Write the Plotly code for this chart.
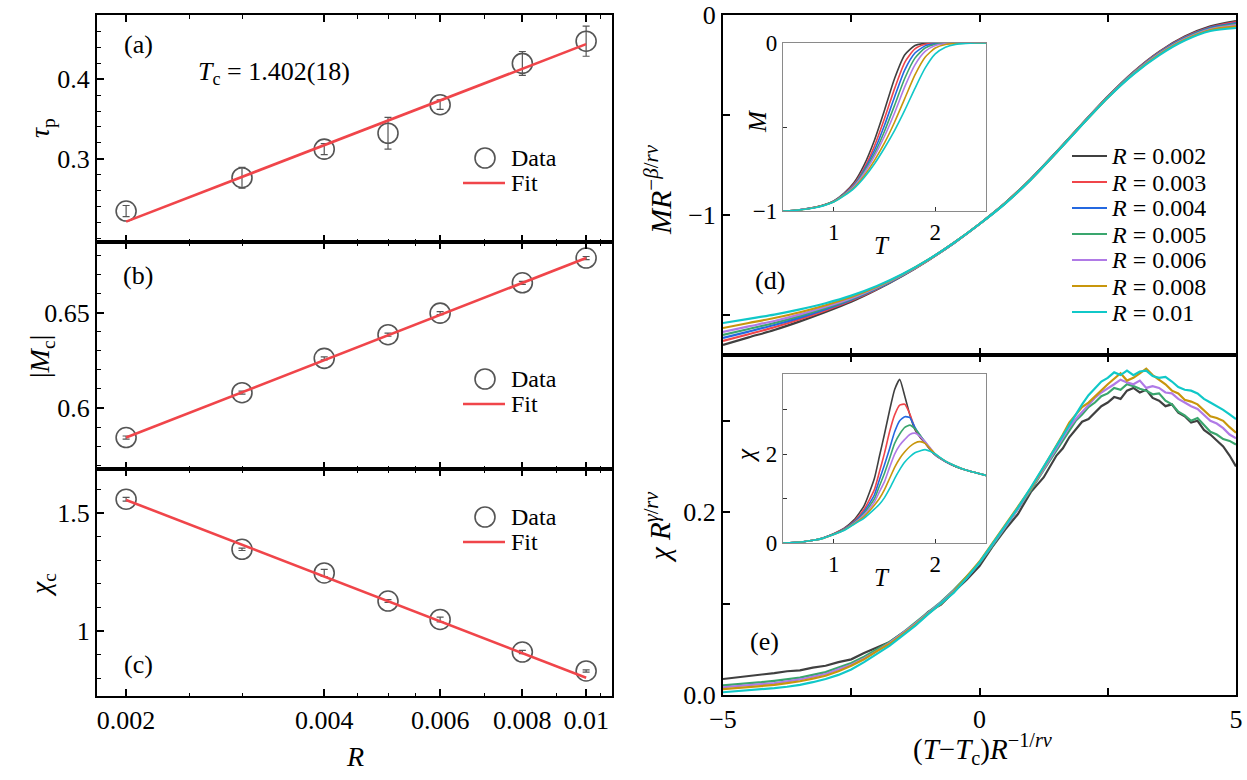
import plotly.graph_objects as go

W, H = 1247, 780
SERIF = "Liberation Serif"
TF = 26

# ---------------- left panels (a)-(c) ----------------
R_vals = [0.002, 0.003, 0.004, 0.005, 0.006, 0.008, 0.01]
tau_p = [0.234, 0.276, 0.312, 0.332, 0.368, 0.420, 0.448]
tau_p_err = [0.007, 0.013, 0.007, 0.020, 0.006, 0.015, 0.019]
Mc = [0.5845, 0.608, 0.626, 0.6384, 0.6497, 0.6656, 0.6786]
Mc_err = [0.0008, 0.0008, 0.0008, 0.0008, 0.0008, 0.0008, 0.0008]
chi_c = [1.558, 1.346, 1.246, 1.127, 1.049, 0.911, 0.831]
chi_c_err = [0.008, 0.005, 0.015, 0.006, 0.010, 0.007, 0.005]
fit_R = [0.002, 0.01]
tau_fit = [0.2207, 0.4443]
Mc_fit = [0.5845, 0.6786]
chi_fit = [1.555, 0.802]
R_ticks = [0.002, 0.004, 0.006, 0.008, 0.01]
R_ticktext = ["0.002", "0.004", "0.006", "0.008", "0.01"]
R_minor = [0.0025, 0.003, 0.0045, 0.005, 0.0055, 0.007, 0.009, 0.0105]

# ---------------- right panels ----------------
R_labels = ["0.002", "0.003", "0.004", "0.005", "0.006", "0.008", "0.01"]
COLORS = ["#404040", "#f0454a", "#2468e0", "#3aa66e", "#b07ae6", "#c8960c", "#10c8c8"]

# (d) main : M R^{-beta/r nu} vs scaled T
D_X = [-5, -4.5, -4, -3.5, -3, -2.5, -2, -1.5, -1, -0.5, 0, 0.5, 1, 1.5, 2, 2.5, 3, 3.5, 4, 4.5, 5]
D_black = [-1.650, -1.612, -1.575, -1.532, -1.485, -1.434, -1.373, -1.304, -1.226, -1.140, -1.045, -0.940, -0.820, -0.685, -0.545, -0.408, -0.285, -0.184, -0.108, -0.057, -0.030]
D_red = [-1.630, -1.596, -1.561, -1.521, -1.477, -1.428, -1.370, -1.302, -1.226, -1.140, -1.045, -0.940, -0.820, -0.685, -0.545, -0.409, -0.287, -0.187, -0.111, -0.061, -0.035]
D_blue = [-1.615, -1.583, -1.550, -1.513, -1.471, -1.424, -1.368, -1.301, -1.225, -1.140, -1.045, -0.941, -0.821, -0.686, -0.546, -0.410, -0.289, -0.189, -0.114, -0.064, -0.040]
D_green = [-1.600, -1.570, -1.540, -1.505, -1.465, -1.420, -1.365, -1.300, -1.225, -1.140, -1.045, -0.941, -0.821, -0.686, -0.546, -0.411, -0.291, -0.192, -0.117, -0.068, -0.045]
D_purple = [-1.585, -1.557, -1.530, -1.497, -1.459, -1.416, -1.362, -1.299, -1.225, -1.140, -1.045, -0.942, -0.822, -0.687, -0.547, -0.412, -0.293, -0.195, -0.120, -0.071, -0.050]
D_gold = [-1.565, -1.540, -1.515, -1.486, -1.451, -1.410, -1.359, -1.297, -1.224, -1.139, -1.045, -0.942, -0.822, -0.687, -0.548, -0.413, -0.295, -0.198, -0.124, -0.075, -0.057]
D_cyan = [-1.540, -1.519, -1.498, -1.472, -1.441, -1.403, -1.355, -1.295, -1.223, -1.139, -1.045, -0.943, -0.823, -0.688, -0.549, -0.414, -0.297, -0.202, -0.128, -0.080, -0.065]

# (d) inset : M vs T
DI_T = [0.5, 0.6, 0.7, 0.8, 0.9, 1.0, 1.1, 1.2, 1.3, 1.4, 1.5, 1.6, 1.7, 1.8, 1.9, 2.0, 2.1, 2.2, 2.3, 2.4, 2.5]
DI_black = [-1.0, -0.997, -0.99, -0.98, -0.965, -0.94, -0.895, -0.83, -0.725, -0.58, -0.40, -0.21, -0.07, -0.015, -0.002, 0.0, 0.0, 0.0, 0.0, 0.0, 0.0]
DI_red = [-1.0, -0.997, -0.99, -0.98, -0.965, -0.941, -0.898, -0.84, -0.745, -0.615, -0.45, -0.27, -0.115, -0.035, -0.008, -0.001, 0.0, 0.0, 0.0, 0.0, 0.0]
DI_blue = [-1.0, -0.997, -0.99, -0.98, -0.966, -0.942, -0.90, -0.845, -0.755, -0.64, -0.49, -0.32, -0.16, -0.06, -0.017, -0.004, 0.0, 0.0, 0.0, 0.0, 0.0]
DI_green = [-1.0, -0.997, -0.99, -0.981, -0.966, -0.943, -0.903, -0.85, -0.765, -0.66, -0.525, -0.37, -0.21, -0.09, -0.03, -0.008, -0.002, 0.0, 0.0, 0.0, 0.0]
DI_purple = [-1.0, -0.997, -0.99, -0.981, -0.967, -0.944, -0.905, -0.853, -0.775, -0.675, -0.555, -0.415, -0.26, -0.13, -0.05, -0.015, -0.004, -0.001, 0.0, 0.0, 0.0]
DI_gold = [-1.0, -0.997, -0.991, -0.981, -0.967, -0.945, -0.907, -0.86, -0.79, -0.70, -0.595, -0.47, -0.33, -0.19, -0.085, -0.03, -0.009, -0.003, -0.001, 0.0, 0.0]
DI_cyan = [-1.0, -0.997, -0.991, -0.982, -0.968, -0.946, -0.91, -0.865, -0.80, -0.72, -0.625, -0.52, -0.40, -0.27, -0.15, -0.065, -0.025, -0.008, -0.002, 0.0, 0.0]

# (e) main : chi R^{gamma/r nu} vs scaled T (denser sampling where the curves are noisy)
E_X = [-5, -4.75, -4.5, -4.25, -4, -3.75, -3.5, -3.25, -3, -2.75, -2.5, -2.25, -2, -1.75, -1.5, -1.25, -1, -0.75, -0.5, -0.25,
       0, 0.25, 0.5, 0.75, 1, 1.25,
       1.5, 1.625, 1.75, 1.875, 2, 2.125, 2.25, 2.375, 2.5, 2.625, 2.75, 2.875, 3, 3.125, 3.25, 3.375, 3.5, 3.625, 3.75, 3.875,
       4, 4.125, 4.25, 4.375, 4.5, 4.625, 4.75, 4.875, 5]
E_black = [0.0175, 0.0190, 0.0205, 0.0220, 0.0240, 0.0260, 0.0270, 0.0300, 0.0320, 0.0360, 0.0390, 0.0460, 0.0520, 0.0580, 0.0680, 0.0770, 0.0910, 0.0990, 0.1130, 0.1260,
           0.1410, 0.1620, 0.1810, 0.1980, 0.2220, 0.2380,
           0.262, 0.270, 0.282, 0.291, 0.299, 0.302, 0.309, 0.316, 0.320, 0.326, 0.324, 0.333, 0.336, 0.331, 0.334, 0.325, 0.322, 0.316, 0.318, 0.309,
           0.305, 0.298, 0.300, 0.290, 0.285, 0.279, 0.272, 0.262, 0.250]
E_green = [0.0105, 0.0115, 0.0125, 0.0140, 0.0155, 0.0170, 0.0190, 0.0220, 0.0250, 0.0300, 0.0350, 0.0420, 0.0500, 0.0580, 0.0680, 0.0790, 0.0900, 0.1020, 0.1150, 0.1290,
           0.1440, 0.1630, 0.1830, 0.2030, 0.2240, 0.2460,
           0.268, 0.279, 0.290, 0.300, 0.307, 0.315, 0.320, 0.327, 0.330, 0.336, 0.334, 0.340, 0.338, 0.335, 0.333, 0.329, 0.330, 0.322, 0.318, 0.310,
           0.306, 0.300, 0.303, 0.295, 0.288, 0.285, 0.280, 0.278, 0.274]
E_purple = [0.0085, 0.0095, 0.0105, 0.0120, 0.0130, 0.0150, 0.0170, 0.0200, 0.0230, 0.0280, 0.0330, 0.0400, 0.0480, 0.0570, 0.0670, 0.0780, 0.0900, 0.1010, 0.1140, 0.1280,
            0.1450, 0.1640, 0.1840, 0.2040, 0.2250, 0.2470,
            0.270, 0.282, 0.293, 0.302, 0.310, 0.318, 0.325, 0.331, 0.336, 0.340, 0.345, 0.342, 0.340, 0.344, 0.336, 0.338, 0.336, 0.331, 0.330, 0.324,
            0.320, 0.316, 0.313, 0.306, 0.300, 0.297, 0.292, 0.285, 0.281]
E_gold = [0.0065, 0.0075, 0.0085, 0.0095, 0.0110, 0.0130, 0.0150, 0.0180, 0.0210, 0.0260, 0.0320, 0.0390, 0.0480, 0.0560, 0.0660, 0.0770, 0.0890, 0.1000, 0.1130, 0.1290,
          0.1460, 0.1660, 0.1860, 0.2070, 0.2260, 0.2490,
          0.272, 0.285, 0.298, 0.306, 0.315, 0.320, 0.327, 0.333, 0.340, 0.346, 0.352, 0.344, 0.347, 0.352, 0.357, 0.350, 0.345, 0.340, 0.333, 0.330,
          0.323, 0.321, 0.318, 0.311, 0.305, 0.303, 0.300, 0.293, 0.287]
E_cyan = [0.0030, 0.0040, 0.0050, 0.0060, 0.0075, 0.0090, 0.0110, 0.0140, 0.0175, 0.0220, 0.0280, 0.0360, 0.0450, 0.0540, 0.0650, 0.0760, 0.0885, 0.1000, 0.1120, 0.1280,
          0.1450, 0.1650, 0.1850, 0.2050, 0.2270, 0.2500,
          0.2725, 0.284, 0.296, 0.308, 0.318, 0.328, 0.336, 0.343, 0.347, 0.353, 0.350, 0.355, 0.350, 0.354, 0.355, 0.349, 0.347, 0.348, 0.343, 0.337,
          0.334, 0.333, 0.330, 0.324, 0.320, 0.316, 0.312, 0.307, 0.302]

# (e) inset : chi vs T
EI_T = [0.5, 0.6, 0.7, 0.8, 0.9, 1.0, 1.1, 1.2, 1.3, 1.4, 1.45, 1.5, 1.55, 1.6, 1.65, 1.7, 1.75, 1.8, 1.85, 1.9, 1.95, 2.0, 2.1, 2.2, 2.3, 2.4, 2.5]
EI_black = [0.0, 0.01, 0.03, 0.06, 0.12, 0.21, 0.33, 0.52, 0.84, 1.45, 1.95, 2.45, 2.98, 3.45, 3.68, 3.30, 2.88, 2.55, 2.38, 2.25, 2.10, 1.98, 1.83, 1.72, 1.64, 1.58, 1.52]
EI_red = [0.0, 0.01, 0.03, 0.06, 0.12, 0.21, 0.32, 0.49, 0.76, 1.20, 1.60, 2.02, 2.50, 2.88, 3.10, 3.12, 2.90, 2.58, 2.40, 2.25, 2.10, 1.98, 1.83, 1.72, 1.64, 1.58, 1.52]
EI_blue = [0.0, 0.01, 0.03, 0.06, 0.12, 0.20, 0.31, 0.47, 0.71, 1.08, 1.42, 1.76, 2.12, 2.50, 2.75, 2.84, 2.82, 2.60, 2.42, 2.26, 2.11, 1.98, 1.83, 1.72, 1.64, 1.58, 1.52]
EI_green = [0.0, 0.01, 0.03, 0.06, 0.11, 0.20, 0.30, 0.45, 0.67, 0.99, 1.28, 1.57, 1.90, 2.24, 2.45, 2.60, 2.65, 2.57, 2.43, 2.27, 2.12, 1.99, 1.84, 1.72, 1.64, 1.58, 1.52]
EI_purple = [0.0, 0.01, 0.03, 0.06, 0.11, 0.19, 0.29, 0.44, 0.64, 0.92, 1.15, 1.38, 1.70, 2.00, 2.20, 2.33, 2.44, 2.47, 2.40, 2.28, 2.14, 2.00, 1.84, 1.73, 1.64, 1.58, 1.52]
EI_gold = [0.0, 0.01, 0.03, 0.06, 0.11, 0.19, 0.29, 0.43, 0.60, 0.85, 1.00, 1.20, 1.45, 1.70, 1.90, 2.05, 2.17, 2.25, 2.28, 2.24, 2.12, 2.00, 1.84, 1.73, 1.64, 1.58, 1.52]
EI_cyan = [0.0, 0.01, 0.03, 0.06, 0.11, 0.19, 0.28, 0.42, 0.56, 0.76, 0.87, 1.02, 1.22, 1.45, 1.65, 1.82, 1.94, 2.03, 2.07, 2.10, 2.06, 2.00, 1.84, 1.73, 1.64, 1.58, 1.52]

D_ALL = [D_black, D_red, D_blue, D_green, D_purple, D_gold, D_cyan]
DI_ALL = [DI_black, DI_red, DI_blue, DI_green, DI_purple, DI_gold, DI_cyan]
EI_ALL = [EI_black, EI_red, EI_blue, EI_green, EI_purple, EI_gold, EI_cyan]
E_MAIN = [(E_black, 0), (E_green, 3), (E_purple, 4), (E_gold, 5), (E_cyan, 6)]


def fx(px):
    return px / W


def fy(py):
    return 1 - py / H


fig = go.Figure()

MARK_C = "#555555"
FIT_C = "#f0454a"

# ----- left panels -----
left = [("x", "y", tau_p, tau_p_err, tau_fit),
        ("x2", "y2", Mc, Mc_err, Mc_fit),
        ("x3", "y3", chi_c, chi_c_err, chi_fit)]
for xa, ya, vals, errs, fit in left:
    fig.add_trace(go.Scatter(
        x=R_vals, y=vals, xaxis=xa, yaxis=ya, mode="markers", name="Data", showlegend=False,
        marker=dict(symbol="circle-open", size=20, color=MARK_C, line=dict(width=1.6, color=MARK_C)),
        error_y=dict(type="data", array=errs, color=MARK_C, thickness=1.2, width=3.5)))
    fig.add_trace(go.Scatter(
        x=fit_R, y=fit, xaxis=xa, yaxis=ya, mode="lines", name="Fit", showlegend=False,
        line=dict(color=FIT_C, width=2.6)))

# ----- right panels -----
for i, c in enumerate(COLORS):
    fig.add_trace(go.Scatter(x=D_X, y=D_ALL[i], xaxis="x4", yaxis="y4", mode="lines",
                             name="R = " + R_labels[i], showlegend=False,
                             line=dict(color=c, width=2.2, shape="spline", smoothing=0.8)))
for i, c in enumerate(COLORS):
    fig.add_trace(go.Scatter(x=DI_T, y=DI_ALL[i], xaxis="x6", yaxis="y6", mode="lines", showlegend=False,
                             line=dict(color=c, width=1.6, shape="spline", smoothing=0.6)))
for vals, ci in E_MAIN:
    fig.add_trace(go.Scatter(x=E_X, y=vals, xaxis="x5", yaxis="y5", mode="lines", showlegend=False,
                             line=dict(color=COLORS[ci], width=2.2)))
for i, c in enumerate(COLORS):
    fig.add_trace(go.Scatter(x=EI_T, y=EI_ALL[i], xaxis="x7", yaxis="y7", mode="lines", showlegend=False,
                             line=dict(color=c, width=1.6, shape="spline", smoothing=0.5)))

tickfont = dict(family=SERIF, size=TF, color="black")
base = dict(showline=True, linecolor="black", linewidth=2, ticks="inside", tickcolor="black",
            tickwidth=1.5, ticklen=7, showgrid=False, zeroline=False, tickfont=tickfont,
            automargin=False, tickmode="array")
minor_in = dict(ticks="inside", ticklen=3.5, tickcolor="black", tickwidth=1.2)
minor_long = dict(ticks="inside", ticklen=7, tickcolor="black", tickwidth=1.5)

LX = [fx(97), fx(612)]
RX = [fx(723), fx(1236)]
IX = [fx(783), fx(986)]

log_x = dict(base, type="log", range=[-2.7432, -1.9607], mirror="ticks",
             tickvals=R_ticks, ticktext=R_ticktext, minor=dict(minor_in, tickvals=R_minor))

inset = dict(showline=True, linecolor="#8a8a8a", linewidth=1.2, mirror=True, ticks="inside",
             tickcolor="#333333", ticklen=4, tickwidth=1, showgrid=False, zeroline=False,
             tickfont=dict(family=SERIF, size=23, color="black"), automargin=False, tickmode="array")
minor_inset = dict(ticks="inside", ticklen=4, tickcolor="#333333", tickwidth=1)

fig.update_layout(
    template="none",
    width=W, height=H, margin=dict(l=0, r=0, t=0, b=0, autoexpand=False),
    paper_bgcolor="white", plot_bgcolor="white", showlegend=False,
    font=dict(family=SERIF, size=24, color="black"),
    xaxis=dict(log_x, domain=LX, anchor="y", showticklabels=False),
    xaxis2=dict(log_x, domain=LX, anchor="y2", showticklabels=False),
    xaxis3=dict(log_x, domain=LX, anchor="y3", showticklabels=True),
    yaxis=dict(base, domain=[fy(242), fy(15)], anchor="x", range=[0.195, 0.481], mirror=True,
               tickvals=[0.3, 0.4], ticktext=["0.3", "0.4"], minor=dict(minor_in, dtick=0.02)),
    yaxis2=dict(base, domain=[fy(469), fy(242)], anchor="x2", range=[0.568, 0.687], mirror=True,
                tickvals=[0.6, 0.65], ticktext=["0.6", "0.65"], minor=dict(minor_in, dtick=0.01)),
    yaxis3=dict(base, domain=[fy(696), fy(469)], anchor="x3", range=[0.725, 1.686], mirror=True,
                tickvals=[1, 1.5], ticktext=["1", "1.5"], minor=dict(minor_in, dtick=0.1)),
    xaxis4=dict(base, domain=RX, anchor="y4", range=[-5, 5], mirror="ticks", showticklabels=False,
                tickvals=[-5, 0, 5], minor=dict(minor_long, tickvals=[-2.5, 2.5])),
    yaxis4=dict(base, domain=[fy(355), fy(15)], anchor="x4", range=[-1.7, 0], mirror=True,
                tickvals=[0, -1], ticktext=["0", "\u22121"], minor=dict(minor_long, tickvals=[-0.5, -1.5])),
    xaxis5=dict(base, domain=RX, anchor="y5", range=[-5, 5], mirror="ticks",
                tickvals=[-5, 0, 5], ticktext=["\u22125", "0", "5"], minor=dict(minor_long, tickvals=[-2.5, 2.5])),
    yaxis5=dict(base, domain=[fy(695), fy(355)], anchor="x5", range=[0, 0.372], mirror=True,
                tickvals=[0, 0.2], ticktext=["0.0", "0.2"], minor=dict(minor_long, tickvals=[0.1, 0.3])),
    xaxis6=dict(inset, domain=IX, anchor="y6", range=[0.5, 2.5], tickvals=[1, 2], ticktext=["1", "2"]),
    yaxis6=dict(inset, domain=[fy(211), fy(43)], anchor="x6", range=[-1, 0],
                tickvals=[-1, 0], ticktext=["\u22121", "0"], minor=dict(minor_inset, tickvals=[-0.5])),
    xaxis7=dict(inset, domain=IX, anchor="y7", range=[0.5, 2.5], tickvals=[1, 2], ticktext=["1", "2"]),
    yaxis7=dict(inset, domain=[fy(543), fy(374)], anchor="x7", range=[0, 3.8],
                tickvals=[0, 2], ticktext=["0", "2"], minor=dict(minor_inset, tickvals=[1, 3])),
)

ann = []
shapes = []


def text(px, py, s, size=26, angle=0, xanchor="center", height=None):
    a = dict(x=fx(px), y=fy(py), xref="paper", yref="paper", text=s, showarrow=False,
             font=dict(family=SERIF, size=size, color="black"), textangle=angle,
             xanchor=xanchor, yanchor="middle", borderpad=0)
    if height is not None:
        a["height"] = height
        a["valign"] = "middle"
    ann.append(a)


def hline(px0, px1, py, color, width):
    shapes.append(dict(type="line", xref="paper", yref="paper", x0=fx(px0), x1=fx(px1),
                       y0=fy(py), y1=fy(py), line=dict(color=color, width=width)))


def circ(cx, cy, r, color):
    shapes.append(dict(type="circle", xref="paper", yref="paper", x0=fx(cx - r), x1=fx(cx + r),
                       y0=fy(cy + r), y1=fy(cy - r), line=dict(color=color, width=1.6)))


# legends of the left panels (Data / Fit)
for ydata, yfit in [(158, 183), (379, 404), (517, 542)]:
    circ(485, ydata, 10, MARK_C)
    text(510, ydata, "Data", size=24, xanchor="left", height=24)
    hline(463, 505, yfit, FIT_C, 2.6)
    text(510, yfit, "Fit", size=24, xanchor="left", height=24)

# legend of panel (d)
for i, c in enumerate(COLORS):
    yy = 156 + 26 * i
    hline(1072, 1107, yy, c, 2.2)
    text(1110, yy, "<i>R</i> = " + R_labels[i], size=24, xanchor="left", height=25)

text(138, 44, "(a)")
text(138, 275, "(b)")
text(138, 664, "(c)")
text(770, 280, "(d)")
text(764, 641, "(e)")
text(274, 73, "<i>T</i><sub>c</sub> = 1.402(18)", size=26)
text(42, 128, "<i>τ</i><sub>p</sub>", size=28, angle=-90)
text(42, 357, "|<i>M</i><sub>c</sub>|", size=28, angle=-90)
text(42, 585, "<i>χ</i><sub>c</sub>", size=28, angle=-90)
text(355, 756, "<i>R</i>", size=28)
text(658, 190, "<i>MR</i><sup>−<i>β</i>/<i>rν</i></sup>", size=30, angle=-90)
text(658, 528, "<i>χ R</i><sup><i>γ</i>/<i>rν</i></sup>", size=29, angle=-90)
text(982, 749, "(<i>T</i>−<i>T</i><sub>c</sub>)<i>R</i><sup>−1/<i>rν</i></sup>", size=29)
text(757, 122, "<i>M</i>", size=25, angle=-90)
text(882, 245, "<i>T</i>", size=25)
text(745, 455, "<i>χ</i>", size=25, angle=-90)
text(882, 577, "<i>T</i>", size=25)
fig.update_layout(annotations=ann, shapes=shapes)

fig.write_html("out.html", config={"displayModeBar": False},
               post_script="document.body.style.margin='0';")
